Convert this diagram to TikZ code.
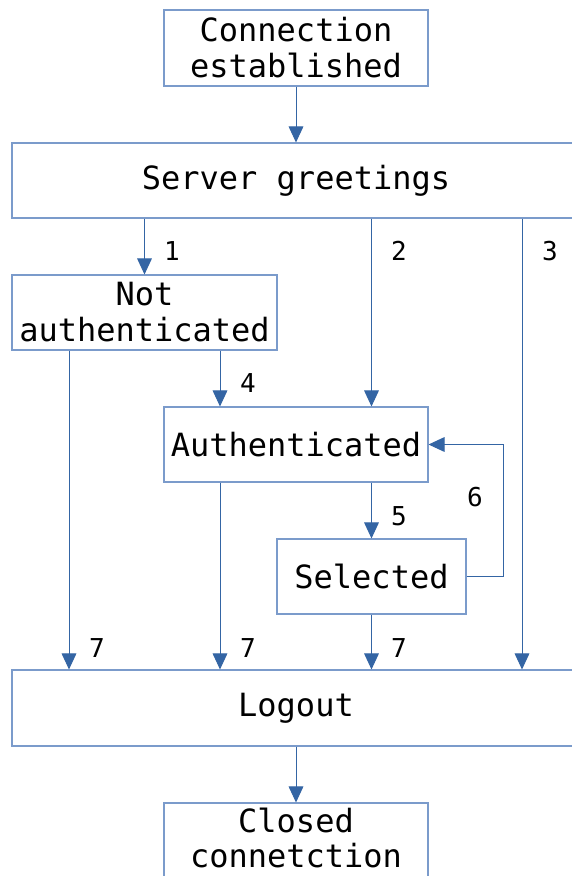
\documentclass[tikz,border=0pt]{standalone}
\usepackage{fontspec}
\setmonofont{DejaVu Sans Mono}
\usetikzlibrary{arrows.meta}
\definecolor{boxline}{HTML}{7B9BCB}
\definecolor{flow}{HTML}{3465A4}
\tikzset{
  state/.style={draw=boxline, line width=0.8pt, fill=white, align=center,
    inner sep=0pt, font=\ttfamily\fontsize{24}{27}\selectfont},
  statetext/.style={align=center, inner sep=0pt, font=\ttfamily\fontsize{24}{26}\selectfont},
  flowline/.style={draw=flow, line width=0.75pt},
  flowarrow/.style={flowline, -{Triangle[width=11pt,length=12pt]}},
  tag/.style={font=\ttfamily\fontsize{19.5}{21}\selectfont, inner sep=0pt}
}
\begin{document}
\begin{tikzpicture}[x=0.75pt,y=-0.75pt]
  \useasboundingbox (0,0) rectangle (572,876);
  \fill[white] (0,0) rectangle (572,876);
  \clip (0,0) rectangle (572,876);

  % states
  \node[state, minimum width=198pt, minimum height=57pt] (conn) at (296,48) {Connection\\established};
  \node[state, minimum width=426pt, minimum height=56.25pt] (server) at (296,180.5) {Server greetings};
  \node[state, minimum width=198.75pt, minimum height=56.25pt] (notauth) at (144.5,312.5) {Not\\authenticated};
  \node[state, minimum width=198pt, minimum height=56.25pt] (auth) at (296,444.5) {Authenticated};
  \node[state, minimum width=141.75pt, minimum height=56.25pt] (sel) at (371.5,576.5) {Selected};
  \node[state, minimum width=426pt, minimum height=57pt] (logout) at (296,708) {Logout};
  % the last box runs past the lower edge; its text is set on its own
  \node[state, minimum width=198pt, minimum height=57pt] (closed) at (296,841) {};
  \node[statetext] (closedtxt) at (296,838) {Closed\\connetction};

  % vertical lanes of the connectors
  \coordinate (laneA) at (69,0);
  \coordinate (laneB) at (220,0);
  \coordinate (laneC) at (522,0);
  \coordinate (loopx) at (503,0);

  % transitions
  \draw[flowarrow] (conn.south) -- (server.north);
  \draw[flowarrow] (server.south -| notauth.north) -- (notauth.north);
  \draw[flowarrow] (server.south -| sel.north) -- (auth.north -| sel.north);
  \draw[flowarrow] (server.south -| laneC) -- (logout.north -| laneC);
  \draw[flowarrow] (notauth.south -| laneB) -- (auth.north -| laneB);
  \draw[flowarrow] (notauth.south -| laneA) -- (logout.north -| laneA);
  \draw[flowarrow] (auth.south -| laneB) -- (logout.north -| laneB);
  \draw[flowarrow] (auth.south -| sel.north) -- (sel.north);
  \draw[flowarrow] (sel.east) -- (sel.east -| loopx) |- (auth.east);
  \draw[flowarrow] (sel.south) -- (logout.north -| sel.south);
  \draw[flowarrow] (logout.south) -- (closed.north);

  % transition numbers
  \node[tag] (t1) at (172,251) {1};
  \node[tag] (t2) at (399,251) {2};
  \node[tag] (t3) at (550,251) {3};
  \node[tag] (t4) at (248,383) {4};
  \node[tag] (t5) at (399,516) {5};
  \node[tag] (t6) at (475,497) {6};
  \node[tag] (t7a) at (97,648) {7};
  \node[tag] (t7b) at (248,648) {7};
  \node[tag] (t7c) at (399,648) {7};
\end{tikzpicture}
\end{document}
